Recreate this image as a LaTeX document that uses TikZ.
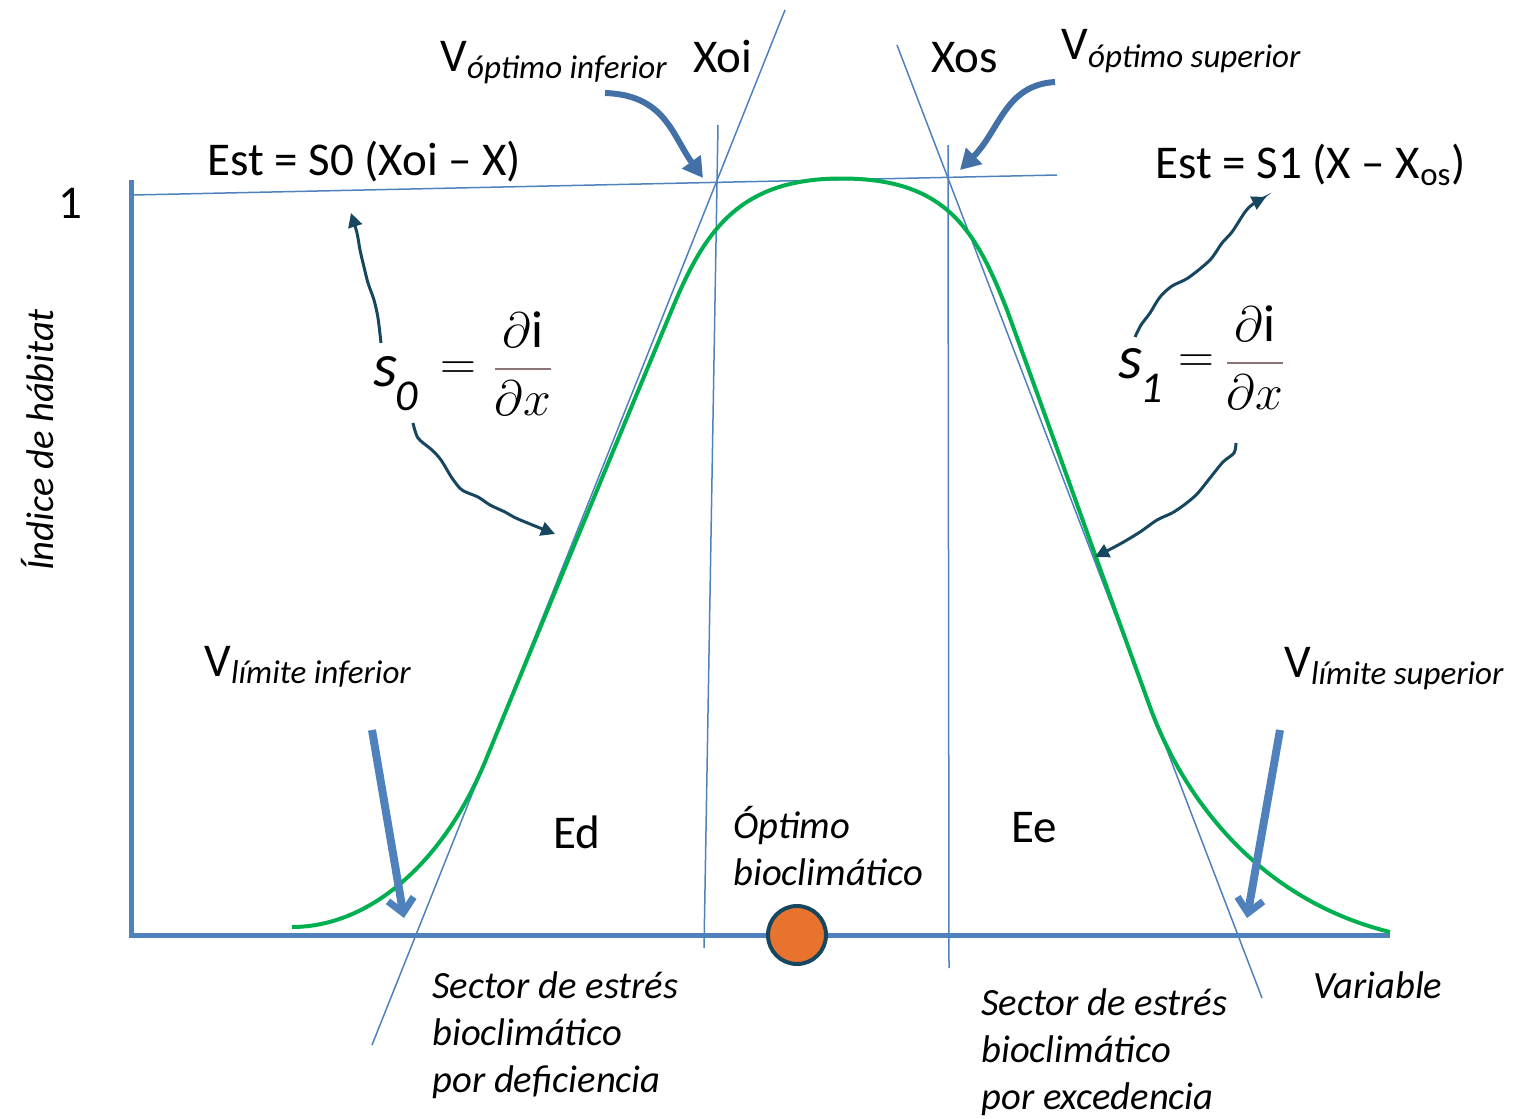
\documentclass[tikz,border=0pt]{standalone}
\usepackage{amsmath}
\usepackage{fontspec}
\setmainfont{Carlito}
\usetikzlibrary{arrows.meta,positioning}

\definecolor{axisblue}{HTML}{4F81BD}
\definecolor{curvegreen}{HTML}{00B050}
\definecolor{pointerblue}{HTML}{4470A8}
\definecolor{wavyteal}{HTML}{17475F}
\definecolor{dotorange}{HTML}{E8732F}
\definecolor{barbrown}{HTML}{8C7474}

% V with an italic subscript
\newcommand{\vsub}[1]{V\raisebox{-3.5pt}{\fontsize{16.5}{20}\selectfont\itshape #1}}
% slope symbol s with an italic index
\newcommand{\slope}[1]{{\fontsize{31}{36}\selectfont\itshape s}\kern-1pt\raisebox{-12pt}{\fontsize{22}{26}\selectfont\itshape #1}}

\begin{document}
\begin{tikzpicture}[x=0.5pt, y=-0.5pt,
    axis/.style={axisblue, line width=2.5pt},
    guide/.style={axisblue, line width=0.75pt},
    lbl/.style={inner sep=0pt, font=\fontsize{23.5}{28}\selectfont},
    itlbl/.style={inner sep=0pt, align=left, font=\fontsize{19.3}{23.5}\selectfont\itshape},
    formula/.style={inner sep=0pt, font=\fontsize{26}{30}\selectfont},
    bigarr/.style={axisblue, line width=4pt, -{Straight Barb[length=7pt,width=13pt,line width=3.5pt]}},
    optarr/.style={pointerblue, line width=3pt, -{Triangle[length=10pt,width=11pt]}},
    wavy/.style={wavyteal, line width=1.5pt, -{Triangle[length=7pt,width=7pt]}}
]
    \useasboundingbox (0,0) rectangle (1522,1119);

    % axes
    \coordinate (orig) at (131,935);
    \coordinate (ytop) at (131,180);
    \coordinate (xend) at (1390,935);
    \draw[axis] (ytop) -- (orig) -- (xend);

    % guide lines
    \coordinate (hl) at (133,195);
    \coordinate (hr) at (1057,175);
    \draw[guide] (hl) -- (hr);
    \draw[guide] (718,125) -- (704,948);
    \draw[guide] (948,145) -- (949,968);
    \draw[guide] (372,1045) -- (785,10);
    \draw[guide] (897,45) -- (1262,998);

    % habitat curve
    \draw[curvegreen, line width=2pt, line join=round]
        (292,927) .. controls (370,927) and (445,862) .. (487,757)
        .. controls (530,652) and (630,410) .. (673,307)
        .. controls (705,230) and (740,179) .. (840,178.5)
        .. controls (945,178) and (975,228) .. (1007,310)
        .. controls (1055,442) and (1102,575) .. (1150,707)
        .. controls (1184,800) and (1260,900) .. (1390,932);

    % optimum point
    \node[circle, fill=dotorange, draw=wavyteal, line width=2pt, minimum size=29pt, inner sep=0pt] (dot) at (797,935) {};

    % labels
    \node[lbl, anchor=base west] (one) at (58,218) {1};
    \node[lbl, anchor=base west] (estl) at (207,175) {Est = S0 (Xoi – X)};
    \node[lbl, anchor=base west] (estr) at (1155,178) {Est = S1 (X – X\textsubscript{os})};
    \node[lbl, anchor=base west] (xoi) at (693,72) {Xoi};
    \node[lbl, anchor=base west] (xos) at (931,72) {Xos};
    \node[lbl, anchor=base west] (voi) at (440,71) {\vsub{óptimo inferior}};
    \node[lbl, anchor=base west] (vos) at (1061,60) {\vsub{óptimo superior}};
    \node[lbl, anchor=base west] (vli) at (204,676) {\vsub{límite inferior}};
    \node[lbl, anchor=base west] (vls) at (1284,677) {\vsub{límite superior}};
    \node[lbl, anchor=base west] (ed) at (553,848) {Ed};
    \node[lbl, anchor=base west] (ee) at (1011,842) {Ee};
    \node[itlbl, anchor=base west] (opt) at (733,885) {Óptimo\\bioclimático};
    \node[itlbl, anchor=base west] (secd) at (432,1092) {Sector de estrés\\bioclimático\\por deficiencia};
    \node[itlbl, anchor=base west] (sece) at (981,1109) {Sector de estrés\\bioclimático\\por excedencia};
    \node[itlbl, anchor=base west] (var) at (1313,998) {Variable};
    \node[itlbl, rotate=90] (yl) at (38,440) {Índice de hábitat};

    % slope formulas
    \node[inner sep=0pt, anchor=base west] (szero) at (373,386) {\slope{0}};
    \node[formula] (eqzero) at (458,371) {$=$};
    \node[formula, anchor=base] (fraczero) at (523,381) {${\color{barbrown}\dfrac{\color{black}\partial\mathrm{i}}{\color{black}\partial x}}$};
    \node[inner sep=0pt, anchor=base west] (sone) at (1118,378) {\slope{1}};
    \node[formula] (eqone) at (1196,364) {$=$};
    \node[formula, anchor=base] (fracone) at (1255,375) {${\color{barbrown}\dfrac{\color{black}\partial\mathrm{i}}{\color{black}\partial x}}$};

    % pointers to the optimum limits
    \coordinate (oi) at (703,178);
    \coordinate (os) at (960,170);
    \draw[optarr] (605,93) .. controls (665,95) and (672,135) .. (oi);
    \draw[optarr] (1055,82) .. controls (1005,85) and (1000,130) .. (os);

    % pointers to the lower and upper limits
    \coordinate (li) at (404,918);
    \coordinate (ls) at (1247,918);
    \draw[bigarr] (372,730) -- (li);
    \draw[bigarr] (1280,730) -- (ls);

    % wavy pointers from the slopes
    \coordinate (s0up) at (351,213);
    \coordinate (s0dn) at (555,534);
    \coordinate (s1up) at (1266,197);
    \coordinate (s1dn) at (1095,557);
    \draw[wavy] plot[smooth] coordinates {(381,343) (378,318) (374,300) (368,283) (364,267) (360,250) (357,233) (s0up)};
    \draw[wavy] plot[smooth] coordinates {(413,423) (418,438) (432,450) (441,460) (452,478) (462,490) (478,497) (490,505) (505,512) (518,519) (s0dn)};
    \draw[wavy] plot[smooth] coordinates {(1135,337) (1141,325) (1150,313) (1160,297) (1172,286) (1188,278) (1210,260) (1222,243) (1232,232) (1245,212) (1253,204) (s1up)};
    \draw[wavy] plot[smooth] coordinates {(1236,443) (1234,453) (1223,462) (1210,478) (1197,494) (1184,505) (1172,513) (1157,520) (1140,532) (1120,544) (s1dn)};
\end{tikzpicture}
\end{document}
